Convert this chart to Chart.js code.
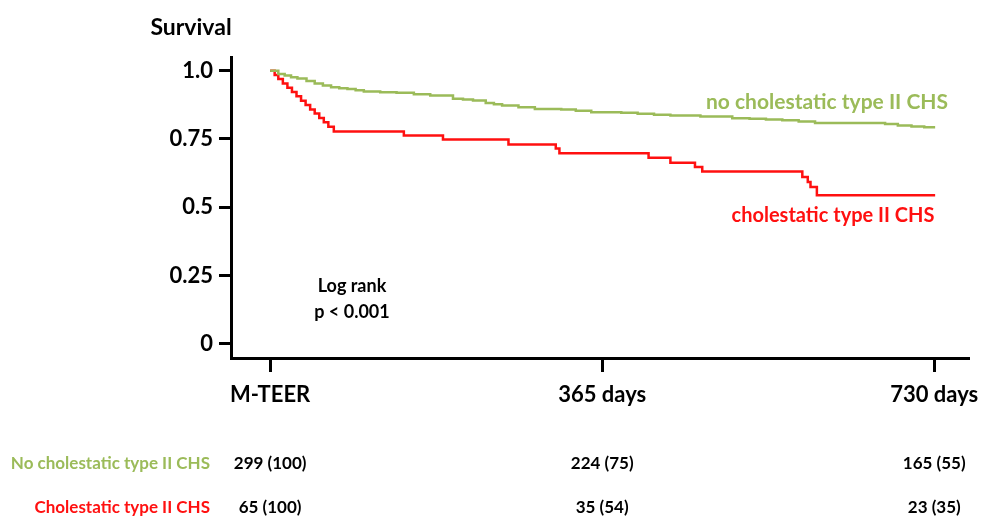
<!DOCTYPE html>
<html>
<head>
<meta charset="utf-8">
<script src="https://cdn.jsdelivr.net/npm/chart.js@4.4.1/dist/chart.umd.min.js"></script>
<style>
  html, body { margin: 0; padding: 0; background: #fff; }
  #wrap { width: 989px; height: 522px; position: relative; }
</style>
</head>
<body>
<div id="wrap"><canvas id="kmChart"></canvas></div>
<script>
// courbes Kaplan-Meier (jours, survie)

const noCholDays = [0, 9, 16, 23, 30, 40, 49, 58, 67, 76, 85, 94, 103, 121, 139, 158, 176, 201, 212, 223, 237, 246, 255, 273, 291, 320, 336, 353, 386, 404, 422, 440, 473, 508, 527, 545, 563, 581, 599, 676, 690, 705, 719, 731];
const noCholSurv = [1.0, 0.988, 0.982, 0.976, 0.971, 0.962, 0.953, 0.946, 0.939, 0.936, 0.933, 0.928, 0.924, 0.921, 0.919, 0.914, 0.909, 0.897, 0.894, 0.891, 0.882, 0.877, 0.872, 0.866, 0.860, 0.858, 0.853, 0.848, 0.846, 0.842, 0.839, 0.836, 0.832, 0.826, 0.824, 0.821, 0.818, 0.814, 0.808, 0.805, 0.799, 0.796, 0.793, 0.793];

const cholDays = [0, 5, 9, 14, 19, 24, 29, 34, 39, 44, 49, 54, 59, 64, 70, 147, 190, 262, 314, 318, 416, 440, 467, 475, 585, 591, 594, 601, 731];
const cholSurv = [1.0, 0.984, 0.969, 0.953, 0.937, 0.922, 0.906, 0.890, 0.874, 0.858, 0.843, 0.827, 0.811, 0.795, 0.777, 0.763, 0.748, 0.730, 0.715, 0.698, 0.681, 0.663, 0.647, 0.631, 0.611, 0.592, 0.574, 0.544, 0.544];

const yTicks = [0, 0.25, 0.5, 0.75, 1.0];
const yTickLabels = ['0', '0.25', '0.5', '0.75', '1.0'];
const xTicks = [0, 365, 730];
const xTickLabels = ['M-TEER', '365 days', '730 days'];

// nombre a risque
const riskGroups = ['No cholestatic type II CHS', 'Cholestatic type II CHS'];
const riskNoChol = ['299 (100)', '224 (75)', '165 (55)'];
const riskChol = ['65 (100)', '35 (54)', '23 (35)'];

const VERT = '#9bbb59';
const ROUGE = '#ff1010';
const POLICE = 'Lato, "Open Sans", sans-serif';

function pts(xs, ys) {
  return xs.map((x, i) => ({ x: x, y: ys[i] }));
}

const textes = {
  id: 'textes',
  afterDraw(chart) {
    const c = chart.ctx;
    const xs = chart.scales.x;
    c.save();
    c.textBaseline = 'middle';
    c.fillStyle = '#000';
    c.textAlign = 'center';
    c.font = 'bold 23px ' + POLICE;
    c.fillText('Survival', 191, 28);

    c.font = 'bold 18px ' + POLICE;
    c.fillText('Log rank', 352, 286);
    c.fillText('p < 0.001', 352, 312);

    c.font = 'bold 21px ' + POLICE;
    c.fillStyle = VERT;
    c.fillText('no cholestatic type II CHS', 827, 102);
    c.fillStyle = ROUGE;
    c.font = 'bold 20px ' + POLICE;
    c.fillText('cholestatic type II CHS', 833, 216);

    // tableau
    c.font = 'bold 17px ' + POLICE;
    c.textAlign = 'right';
    c.fillStyle = VERT;
    c.fillText(riskGroups[0], 210, 464);
    c.fillStyle = ROUGE;
    c.fillText(riskGroups[1], 210, 508);
    c.textAlign = 'center';
    c.fillStyle = '#000';
    xTicks.forEach((t, i) => {
      const px = xs.getPixelForValue(t);
      c.fillText(riskNoChol[i], px, 464);
      c.fillText(riskChol[i], px, 508);
    });
    c.restore();
  }
};

new Chart(document.getElementById('kmChart'), {
  type: 'line',
  data: {
    datasets: [
      {
        label: 'no cholestatic type II CHS',
        data: pts(noCholDays, noCholSurv),
        borderColor: VERT,
        borderWidth: 2.5,
        stepped: true,
        pointRadius: 0,
        fill: false
      },
      {
        label: 'cholestatic type II CHS',
        data: pts(cholDays, cholSurv),
        borderColor: ROUGE,
        borderWidth: 2.5,
        stepped: true,
        pointRadius: 0,
        fill: false
      }
    ]
  },
  options: {
    responsive: true,
    maintainAspectRatio: false,
    animation: false,
    layout: { padding: { left: 0, top: 57, right: 16, bottom: 0 } },
    plugins: {
      legend: { display: false },
      tooltip: { enabled: false }
    },
    scales: {
      x: {
        type: 'linear',
        min: -43,
        max: 769,
        afterBuildTicks: (s) => { s.ticks = xTicks.map(v => ({ value: v })); },
        afterFit: (s) => { s.height = 164; },
        ticks: {
          callback: (v) => xTickLabels[xTicks.indexOf(v)],
          font: { family: POLICE, weight: 'bold', size: 22 },
          color: '#000',
          padding: 10,
          maxRotation: 0,
          autoSkip: false
        },
        grid: { drawOnChartArea: false, tickLength: 14, tickWidth: 3, color: '#000' },
        border: { display: true, width: 3, color: '#000' }
      },
      y: {
        min: -0.052,
        max: 1.05,
        afterBuildTicks: (s) => { s.ticks = yTicks.map(v => ({ value: v })); },
        afterFit: (s) => { s.width = 231; },
        ticks: {
          callback: (v) => yTickLabels[yTicks.indexOf(v)],
          font: { family: POLICE, weight: 'bold', size: 22 },
          color: '#000',
          padding: 6
        },
        grid: { drawOnChartArea: false, tickLength: 12, tickWidth: 3, color: '#000' },
        border: { display: true, width: 3, color: '#000' }
      }
    }
  },
  plugins: [textes]
});
</script>
</body>
</html>
